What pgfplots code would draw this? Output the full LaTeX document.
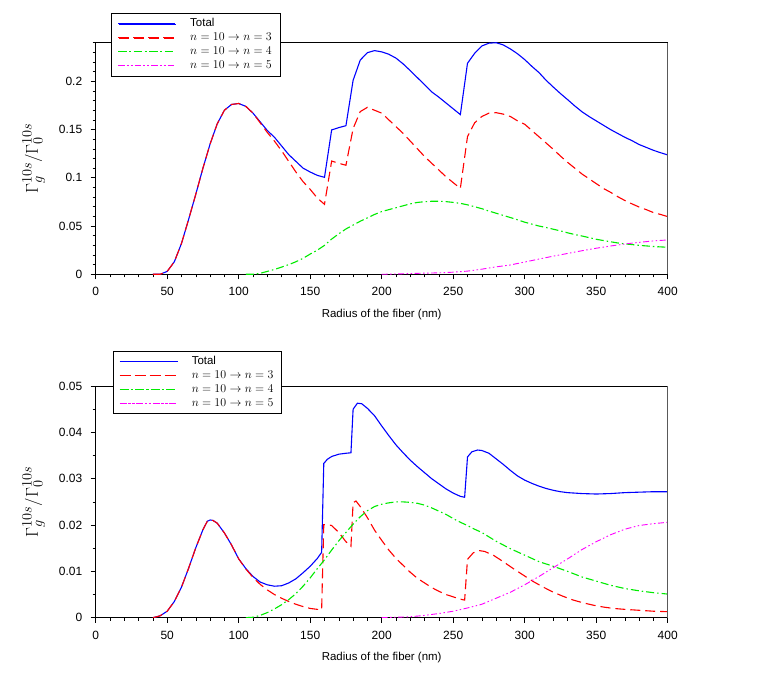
\documentclass[border=0pt]{standalone}
\usepackage[no-math]{fontspec}
\setmainfont{Liberation Sans}
\usepackage{pgfplots}
\pgfplotsset{compat=1.18}
\definecolor{cblue}{RGB}{0,0,255}
\definecolor{cred}{RGB}{255,0,0}
\definecolor{cgreen}{RGB}{0,235,0}
\definecolor{cmag}{RGB}{255,0,255}
\tikzset{
 tot/.style={draw=cblue, line width=1.1bp, solid},
 n3/.style={draw=cred, line width=1.1bp, dash pattern=on 10bp off 5bp},
 n4/.style={draw=cgreen, line width=1.1bp, dash pattern=on 8bp off 3bp on 1.5bp off 3bp},
 n5/.style={draw=cmag, line width=0.9bp, dash pattern=on 6bp off 2.5bp on 1.5bp off 2.5bp on 1.5bp off 2.5bp},
}
% legend sample lines are drawn after each axis (beside the legend text), so the legend reserves their room
\pgfplotsset{legend image code/.code={\path (0bp,0bp) -- (57bp,0bp);}}
\pgfplotsset{
 myax/.style={
  scale only axis, width=572bp, height=231.6bp,
  xmin=0, xmax=400, xtick={0,50,...,400}, minor xtick={0,10,...,400},
  tick align=outside, xtick pos=left, ytick pos=left,
  major tick length=5bp, minor tick length=3bp,
  tick style={black, line width=0.6bp},
  axis line style={line width=0.8bp},
  ticklabel style={font=\fontsize{12}{14}\selectfont},
  xticklabel style={yshift=-4.5bp},
  yticklabel style={xshift=-5bp},
  /pgf/number format/assume math mode=true,
  scaled y ticks=false,
  yticklabel style={/pgf/number format/fixed, /pgf/number format/precision=3},
  xlabel={Radius of the fiber (nm)},
  xlabel style={font=\fontsize{11.5}{13}\selectfont, at={(axis description cs:0.5,-0.1727)}, anchor=center},
  ylabel={$\Gamma_g^{10s}/\Gamma_0^{10s}$},
  ylabel style={font=\fontsize{19}{22}\selectfont, at={(axis description cs:-0.1084,0.5)}, anchor=center},
  legend cell align=left,
  legend style={font=\fontsize{11.5}{13}\selectfont, anchor=north west, inner xsep=7bp, inner ysep=3.5bp, row sep=0bp, column sep=12.5bp, line width=0.8bp,
    nodes={inner sep=1.2bp, text height=8.5bp, text depth=3bp}},
  after end axis/.code={\draw[black!65, line width=1.5bp] (rel axis cs:1,0) -- (rel axis cs:1,1);},
 },
}
\begin{document}
\begin{tikzpicture}
\path[use as bounding box] (0,0) rectangle (763bp,687bp);
% ---------------- top ----------------
\begin{axis}[myax, at={(95.7bp,412.7bp)}, anchor=south west,
  ymin=0, ymax=0.24, ytick={0,0.05,0.1,0.15,0.2}, minor ytick={0,0.01,...,0.24},
  legend style={at={(axis description cs:0.0268,1.127)}}]
\addplot[tot] coordinates {
(40,0)(45,0)(50,0.003)(55,0.013)(60,0.032)(65,0.057)(70,0.083)(75,0.110)(80,0.135)(85,0.156)(90,0.170)(95,0.176)(100,0.177)(105,0.174)(110,0.167)(115,0.158)(120,0.149)(125,0.142)(130,0.133)(135,0.124)(140,0.117)(145,0.110)(150,0.106)(155,0.1025)(160,0.1005)(165,0.1496)(170,0.152)(175,0.154)(180,0.201)(185,0.222)(190,0.2297)(195,0.2318)(200,0.2305)(205,0.228)(210,0.224)(215,0.218)(220,0.211)(225,0.2037)(230,0.1965)(235,0.189)(240,0.1835)(245,0.1775)(250,0.1715)(255,0.1655)(260,0.2187)(265,0.229)(270,0.2366)(275,0.2395)(280,0.240)(285,0.2377)(290,0.2335)(295,0.2285)(300,0.2225)(305,0.2155)(310,0.209)(315,0.201)(320,0.194)(325,0.1873)(330,0.181)(335,0.1745)(340,0.1685)(345,0.1635)(350,0.159)(355,0.1545)(360,0.150)(365,0.146)(370,0.142)(375,0.1385)(380,0.1345)(385,0.1315)(390,0.1285)(395,0.126)(400,0.1237)};
\addlegendentry{Total}
\addplot[n3] coordinates {
(40,0)(45,0)(50,0.003)(55,0.013)(60,0.032)(65,0.057)(70,0.083)(75,0.110)(80,0.135)(85,0.156)(90,0.170)(95,0.176)(100,0.177)(105,0.174)(110,0.167)(115,0.157)(120,0.147)(125,0.138)(130,0.128)(135,0.117)(140,0.106)(145,0.096)(150,0.088)(155,0.079)(160,0.0725)(165,0.1174)(170,0.115)(175,0.113)(180,0.151)(185,0.1686)(190,0.173)(195,0.170)(200,0.167)(205,0.160)(210,0.153)(215,0.146)(220,0.138)(225,0.130)(230,0.122)(235,0.115)(240,0.108)(245,0.101)(250,0.095)(255,0.089)(260,0.1427)(265,0.157)(270,0.1635)(275,0.167)(280,0.1675)(285,0.166)(290,0.1635)(295,0.159)(300,0.1555)(305,0.149)(310,0.1425)(315,0.136)(320,0.1295)(325,0.1225)(330,0.116)(335,0.110)(340,0.104)(345,0.099)(350,0.094)(355,0.089)(360,0.085)(365,0.0805)(370,0.0765)(375,0.073)(380,0.0697)(385,0.067)(390,0.064)(395,0.062)(400,0.0598)};
\addlegendentry{$n=10\rightarrow n=3$}
\addplot[n4] coordinates {
(105,0)(110,0)(115,0.001)(120,0.003)(125,0.005)(130,0.0075)(135,0.010)(140,0.013)(145,0.0165)(150,0.021)(155,0.025)(160,0.030)(165,0.0365)(170,0.042)(175,0.047)(180,0.051)(185,0.055)(190,0.0585)(195,0.062)(200,0.065)(205,0.067)(210,0.069)(215,0.071)(220,0.073)(225,0.0745)(230,0.0752)(235,0.0757)(240,0.0757)(245,0.0753)(250,0.0745)(255,0.0735)(260,0.072)(265,0.070)(270,0.068)(275,0.0655)(280,0.0633)(285,0.061)(290,0.0588)(295,0.0565)(300,0.054)(305,0.052)(310,0.050)(315,0.0485)(320,0.0467)(325,0.045)(330,0.043)(335,0.0412)(340,0.0397)(345,0.038)(350,0.0363)(355,0.035)(360,0.0337)(365,0.0325)(370,0.0315)(375,0.0308)(380,0.030)(385,0.0294)(390,0.0288)(395,0.0284)(400,0.028)};
\addlegendentry{$n=10\rightarrow n=4$}
\addplot[n5] coordinates {
(200,0)(210,0.0003)(220,0.0008)(230,0.0012)(240,0.0015)(250,0.0022)(260,0.0033)(270,0.0053)(280,0.0077)(290,0.0097)(300,0.0127)(310,0.0158)(320,0.0188)(330,0.0216)(340,0.0244)(350,0.027)(360,0.0293)(370,0.0314)(380,0.0331)(390,0.0346)(400,0.0356)};
\addlegendentry{$n=10\rightarrow n=5$}
\end{axis}
% legend sample lines, top legend (box north west at 111.0bp, 673.7bp)
\draw[tot] (118.0bp,663.3bp) -- ++(57bp,0bp);
\draw[n3]  (118.0bp,649.3bp) -- ++(57bp,0bp);
\draw[n4]  (118.0bp,635.3bp) -- ++(57bp,0bp);
\draw[n5]  (118.0bp,621.3bp) -- ++(57bp,0bp);
% ---------------- bottom ----------------
\begin{axis}[myax, at={(95.7bp,69.3bp)}, anchor=south west,
  ymin=0, ymax=0.05, ytick={0,0.01,0.02,0.03,0.04,0.05}, minor ytick={0,0.005,...,0.05},
  legend style={at={(axis description cs:0.0295,1.152)}}]
\addplot[tot] coordinates {
(40,0)(45,0.0004)(50,0.0014)(55,0.0035)(60,0.0066)(65,0.0107)(70,0.0151)(75,0.0190)(78,0.0208)(80,0.0211)(82,0.0210)(85,0.0204)(90,0.0183)(95,0.0157)(100,0.0127)(105,0.0106)(110,0.0089)(115,0.0077)(120,0.0071)(125,0.0068)(130,0.0069)(135,0.0075)(140,0.0084)(145,0.0097)(150,0.0111)(155,0.0128)(158,0.0141)(159.5,0.0333)(162,0.0342)(165,0.0348)(170,0.0353)(175,0.0355)(178.5,0.0356)(180,0.0450)(183,0.0463)(186,0.0462)(190,0.0452)(195,0.0436)(200,0.0414)(205,0.0393)(210,0.0373)(215,0.0356)(220,0.0340)(225,0.0326)(230,0.0313)(235,0.0300)(240,0.0289)(245,0.0278)(250,0.0269)(255,0.0262)(258,0.0260)(260,0.0347)(263,0.0358)(267,0.0362)(270,0.0361)(275,0.0355)(280,0.0343)(285,0.0331)(290,0.0318)(295,0.0306)(300,0.0297)(305,0.0290)(310,0.0284)(315,0.0279)(320,0.0275)(325,0.0272)(330,0.0270)(340,0.0268)(350,0.0267)(360,0.0268)(370,0.0270)(380,0.0271)(390,0.0272)(400,0.0272)};
\addlegendentry{Total}
\addplot[n3] coordinates {
(40,0)(45,0.0004)(50,0.0014)(55,0.0035)(60,0.0066)(65,0.0107)(70,0.0151)(75,0.0190)(78,0.0208)(80,0.0211)(82,0.0210)(85,0.0204)(90,0.0183)(95,0.0157)(100,0.0127)(105,0.0105)(110,0.0087)(115,0.0072)(120,0.0060)(125,0.0050)(130,0.0042)(135,0.0035)(140,0.0029)(145,0.0024)(150,0.0020)(155,0.0018)(158,0.0017)(159.5,0.0201)(162,0.0201)(165,0.0199)(170,0.0184)(175,0.0164)(178.5,0.0154)(180,0.0248)(182,0.0252)(185,0.0240)(190,0.0216)(195,0.0189)(200,0.0167)(205,0.0146)(210,0.0128)(215,0.0113)(220,0.0098)(225,0.0085)(230,0.0075)(235,0.0065)(240,0.0057)(245,0.0050)(250,0.0045)(255,0.0040)(258,0.0038)(260,0.0126)(264,0.0140)(268,0.0145)(272,0.0143)(278,0.0135)(285,0.0121)(292,0.0106)(300,0.0090)(306,0.0078)(313,0.0066)(320,0.0055)(327,0.0046)(334,0.0038)(341,0.0032)(348,0.0027)(355,0.0023)(362,0.0020)(370,0.0018)(380,0.0016)(390,0.0014)(400,0.0013)};
\addlegendentry{$n=10\rightarrow n=3$}
\addplot[n4] coordinates {
(105,0)(110,0.0001)(115,0.0005)(120,0.0011)(125,0.0019)(130,0.0028)(135,0.0039)(140,0.0052)(145,0.0068)(150,0.0086)(155,0.0106)(160,0.0125)(165,0.0146)(170,0.0166)(175,0.0184)(180,0.0202)(185,0.0218)(190,0.0231)(195,0.0240)(200,0.0245)(205,0.0248)(210,0.0250)(215,0.0250)(220,0.0249)(225,0.0247)(230,0.0243)(235,0.0237)(240,0.0230)(245,0.0223)(250,0.0214)(255,0.0206)(260,0.0199)(265,0.0191)(270,0.0184)(280,0.0165)(290,0.0149)(300,0.0135)(310,0.0121)(320,0.0111)(330,0.0100)(340,0.0088)(350,0.0079)(360,0.0070)(370,0.0063)(380,0.0058)(390,0.0054)(400,0.0051)};
\addlegendentry{$n=10\rightarrow n=4$}
\addplot[n5] coordinates {
(200,0)(210,0.0001)(220,0.0002)(230,0.0005)(240,0.0009)(250,0.0014)(260,0.0021)(270,0.0029)(280,0.0042)(290,0.0055)(300,0.0071)(310,0.0089)(320,0.0108)(330,0.0127)(340,0.0147)(350,0.0164)(360,0.0179)(370,0.0191)(380,0.0199)(390,0.0203)(400,0.0206)};
\addlegendentry{$n=10\rightarrow n=5$}
\end{axis}
% legend sample lines, bottom legend (box north west at 112.6bp, 336.1bp)
\draw[tot] (119.6bp,325.3bp) -- ++(57bp,0bp);
\draw[n3]  (119.6bp,311.3bp) -- ++(57bp,0bp);
\draw[n4]  (119.6bp,297.3bp) -- ++(57bp,0bp);
\draw[n5]  (119.6bp,283.3bp) -- ++(57bp,0bp);
\end{tikzpicture}
\end{document}
